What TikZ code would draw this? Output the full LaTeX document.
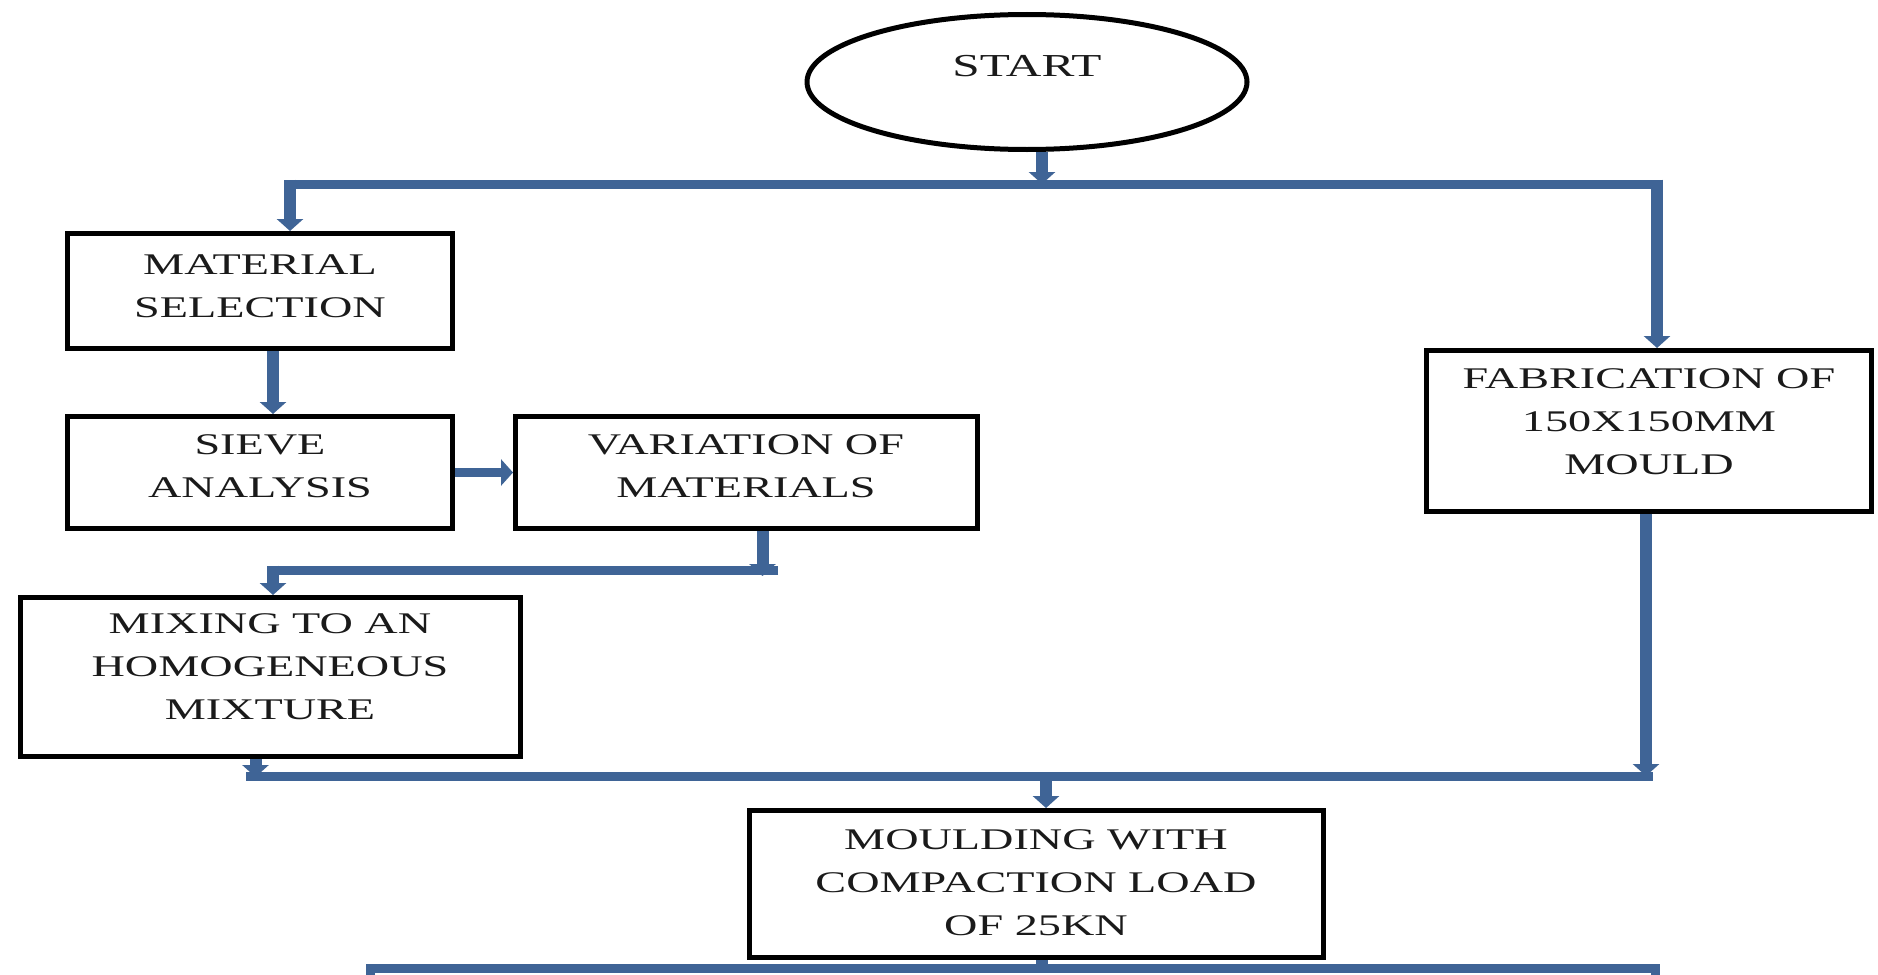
\documentclass[tikz,border=0pt]{standalone}
\usepackage{fontspec}
\setmainfont{Liberation Serif}[FakeStretch=1.54]
\usetikzlibrary{shapes.geometric,arrows.meta}
\definecolor{connblue}{RGB}{63,100,150}
\definecolor{ink}{RGB}{26,26,26}
\begin{document}
\begin{tikzpicture}[x=1pt,y=-1pt,
  box/.style={draw=black,line width=5pt,rectangle,inner sep=0pt,fill=white},
  oval/.style={draw=black,line width=5pt,ellipse,inner sep=0pt,fill=white},
  lbl/.style={align=center,font=\fontsize{30}{43}\selectfont,text=ink,inner sep=0pt},
  conn/.style={draw=connblue,line width=9pt,line cap=butt,line join=miter},
  vconn/.style={draw=connblue,line width=12pt,line cap=butt,line join=miter},
  tip/.style={-{Triangle[width=26pt,length=12pt]}},
  tips/.style={{Triangle[width=26pt,length=12pt]}-{Triangle[width=26pt,length=12pt]}}]
\useasboundingbox[fill=white] (0,0) rectangle (1878,974);

% nodes
\node[oval,minimum width=440pt,minimum height=135pt] (start) at (1027,82) {};
\node[lbl,font=\fontsize{32}{43}\selectfont] (startT) at (1027,66) {START};

\node[box,minimum width=385pt,minimum height=115pt] (mat) at (260,291) {};
\node[lbl] (matT) at (260,286) {MATERIAL\\SELECTION};

\node[box,minimum width=385pt,minimum height=112pt] (sieve) at (260,472.5) {};
\node[lbl] (sieveT) at (260,466) {SIEVE\\ANALYSIS};

\node[box,minimum width=462pt,minimum height=112pt] (var) at (746.5,472.5) {};
\node[lbl] (varT) at (746,466) {VARIATION OF\\MATERIALS};

\node[box,minimum width=445pt,minimum height=161pt] (fab) at (1649,431) {};
\node[lbl] (fabT) at (1649,422) {FABRICATION OF\\150X150MM\\MOULD};

\node[box,minimum width=500pt,minimum height=159pt] (mix) at (270.5,677) {};
\node[lbl] (mixT) at (270,667) {MIXING TO AN\\HOMOGENEOUS\\MIXTURE};

\node[box,minimum width=574pt,minimum height=147pt] (mould) at (1036.5,884) {};
\node[lbl] (mouldT) at (1036,883) {MOULDING WITH\\COMPACTION LOAD\\OF 25KN};

% bus coordinates
\coordinate (stem) at (1042,184);
\coordinate (busL) at (290,184);
\coordinate (busR) at (1657,184);
\coordinate (b2R) at (778,570);
\coordinate (b2L) at (273,570);
\coordinate (b3L) at (246,776);
\coordinate (b3R) at (1653,776);
\coordinate (b3M) at (1046,776);
\coordinate (b4M) at (1042,968);
\coordinate (b4L) at (370,968);
\coordinate (b4R) at (1655,968);

% connectors
\draw[vconn,tip] (stem |- start.south) -- (stem);
\draw[conn] (busL) -- (busR);
\draw[vconn,tip] ([yshift=4.5pt]busL) -- (busL |- mat.north);
\draw[vconn,tip] ([yshift=4.5pt]busR) -- (busR |- fab.north);
\draw[vconn,tip] ([xshift=13pt]mat.south) -- ([xshift=13pt]sieve.north);
\draw[conn,tip] (sieve.east) -- (var.west);
\draw[vconn,tip] ([xshift=16pt]var.south) -- ++(0,45);
\draw[conn] (b2R) -- (b2L);
\draw[vconn,tip] ([yshift=4.5pt]b2L) -- (b2L |- mix.north);
\draw[vconn,tip] ([xshift=-15pt]mix.south) -- ++(0,18);
\draw[conn] (b3L) -- (b3R);
\draw[vconn,tip] ([xshift=-3pt]fab.south) -- ([xshift=-3pt]fab.south |- b3R);
\draw[vconn,tip] (b3M) -- (b3M |- mould.north);
\draw[vconn] (b4M |- mould.south) -- (b4M);
\draw[conn] ([yshift=-30pt]b4L) -- (b4L) -- (b4R) -- ([yshift=-30pt]b4R);
\end{tikzpicture}
\end{document}
